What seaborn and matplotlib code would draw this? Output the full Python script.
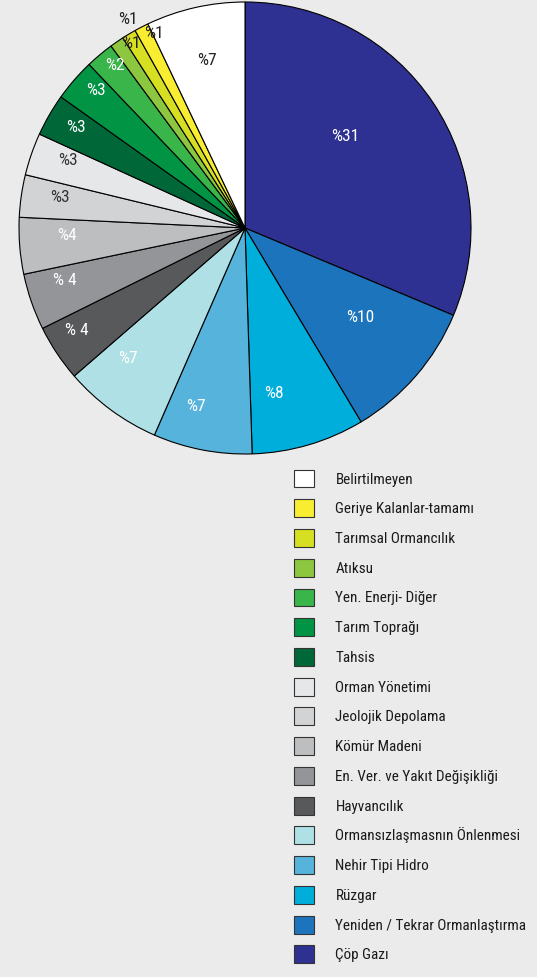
import numpy as np
import matplotlib
matplotlib.use("Agg")
import matplotlib.pyplot as plt
from matplotlib.patches import Patch
import seaborn as sns

categories = ["Çöp Gazı", "Yeniden / Tekrar Ormanlaştırma", "Rüzgar", "Nehir Tipi Hidro",
              "Ormansızlaşmasnın Önlenmesi", "Hayvancılık", "En. Ver. ve Yakıt Değişikliği",
              "Kömür Madeni", "Jeolojik Depolama", "Orman Yönetimi", "Tahsis", "Tarım Toprağı",
              "Yen. Enerji- Diğer", "Atıksu", "Tarımsal Ormancılık", "Geriye Kalanlar-tamamı",
              "Belirtilmeyen"]
values = [31, 10, 8, 7, 7, 4, 4, 4, 3, 3, 3, 3, 2, 1, 1, 1, 7]
pct_labels = ["%31", "%10", "%8", "%7", "%7", "% 4", "% 4", "%4", "%3", "%3", "%3", "%3",
              "%2", "%1", "%1", "%1", "%7"]
colors = ["#2e3192", "#1c75bc", "#00aedb", "#56b4dc", "#aee0e5", "#58595b", "#939598",
          "#bcbec0", "#d1d3d4", "#e6e7e8", "#006838", "#009444", "#39b54a", "#8dc63f",
          "#d7df23", "#f9ed32", "#ffffff"]
# label styling (colour, radial distance as fraction of radius, angle shift in degrees)
label_colors = ["white", "white", "white", "white", "white", "white", "white", "white",
                "#333333", "#333333", "white", "white", "white", "#222222", "#222222", "#222222", "#222222"]
label_radius = [0.60, 0.645, 0.745, 0.82, 0.775, 0.87, 0.83, 0.79, 0.83, 0.84, 0.87, 0.90,
                0.92, 0.96, 1.06, 0.95, 0.76]
label_shift = [8.7, 3.0, -6.4, -4.4, -5.5, -2.2, -2.9, -2.1, -1.3, -1.7, -0.6, -1.8,
               -1.3, -2.9, -1.6, -2.2, 0.0]

sns.set_theme(style="white")
BG = "#ebebeb"
plt.rcParams["font.family"] = ["Roboto Condensed", "DejaVu Sans"]

W, H = 537, 977
fig = plt.figure(figsize=(W / 100, H / 100), dpi=100, facecolor=BG)
cx, cy, R = 245, 228, 226
ax = fig.add_axes([(cx - R) / W, (H - cy - R) / H, 2 * R / W, 2 * R / H])
ax.set_facecolor(BG)

wedges, _ = ax.pie(values, colors=colors, startangle=90, counterclock=False,
                   wedgeprops=dict(edgecolor="black", linewidth=0.8), radius=1.0)
ax.set_xlim(-1.0, 1.0)
ax.set_ylim(-1.0, 1.0)
ax.set_aspect("equal")
ax.axis("off")

for w, lab, col, rf, sh in zip(wedges, pct_labels, label_colors, label_radius, label_shift):
    ang = np.deg2rad((w.theta1 + w.theta2) / 2 + sh)
    ax.text(rf * np.cos(ang), rf * np.sin(ang), lab, ha="center", va="center",
            fontsize=12.5, color=col)

handles = [Patch(facecolor=c, edgecolor="#333333", linewidth=0.8) for c in colors]
leg = fig.legend(handles[::-1], categories[::-1], loc="upper left",
                 bbox_to_anchor=(286 / W, 1 - 462 / H), frameon=False,
                 fontsize=10.9, handlelength=1.32, handleheight=1.445,
                 labelspacing=0.78, handletextpad=1.445, borderpad=0)
for t in leg.get_texts():
    t.set_color("#1a1a1a")

fig.savefig("out.png", dpi=100, facecolor=BG)
